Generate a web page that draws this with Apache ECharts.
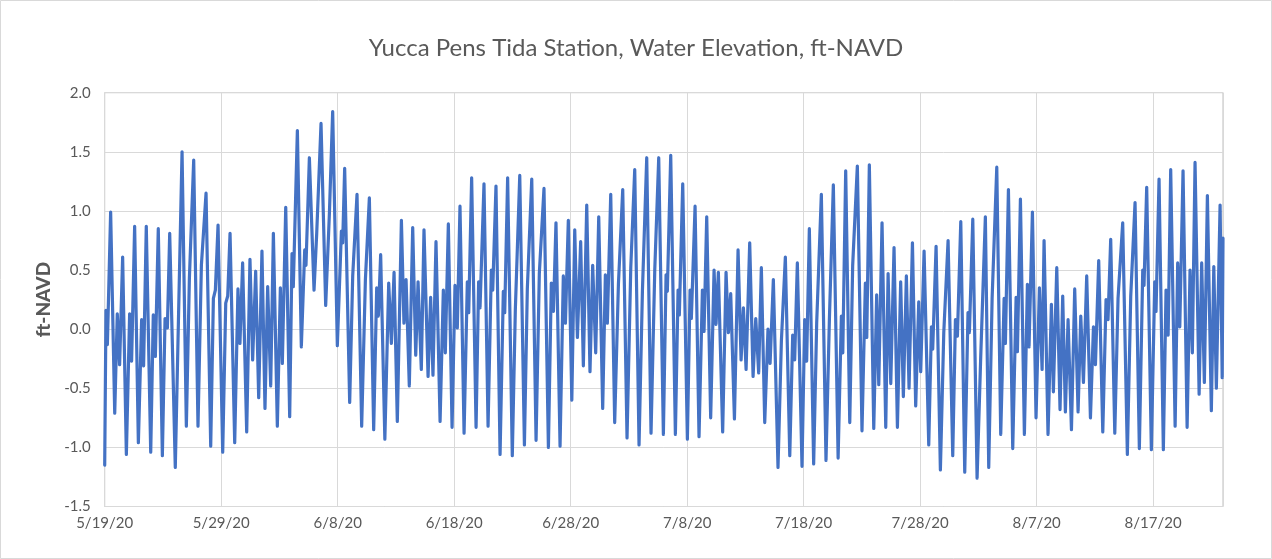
<!DOCTYPE html>
<html>
<head>
<meta charset="utf-8">
<script src="https://cdn.jsdelivr.net/npm/echarts@6/dist/echarts.min.js"></script>
<style>
html,body{margin:0;padding:0;background:#fff;}
#chart{width:1272px;height:559px;}
</style>
</head>
<body>
<div id="chart"></div>
<script>
// Title / labels
const chartTitle = "Yucca Pens Tida Station, Water Elevation, ft-NAVD";
const yAxisTitle = "ft-NAVD";
const startDate = [2020, 5, 19];   // 5/19/20
const axisDays = 96;               // axis span in days
const tickDays = 10;               // date tick spacing
const yTicks = [-1.5, -1.0, -0.5, 0.0, 0.5, 1.0, 1.5, 2.0];

// Time of each reading, in days since 5/19/20
const days = [
0.00,0.11,0.23,0.51,0.86,1.08,1.28,1.54,1.86,2.14,2.31,2.57,2.89,3.17,3.34,3.57,3.95,4.17,4.35,4.60,4.95,5.18,5.38,5.58,6.06,6.64,7.01,7.27,7.64,
8.01,8.30,8.70,9.10,9.33,9.50,9.73,10.13,10.39,10.56,10.76,11.16,11.44,11.61,11.84,12.19,12.47,12.70,12.96,13.22,13.50,13.76,13.99,14.25,14.48,14.82,15.08,15.25,15.54,15.88,
16.08,16.19,16.54,16.88,17.17,17.28,17.57,17.97,18.20,18.57,18.97,19.29,19.57,19.97,20.32,20.43,20.60,21.03,21.29,21.66,22.06,22.38,22.72,23.09,23.35,23.49,23.69,
24.05,24.38,24.61,24.84,25.12,25.47,25.69,25.87,26.15,26.44,26.70,26.90,27.18,27.41,27.76,27.98,28.18,28.44,28.79,29.07,29.24,29.50,29.82,30.07,30.27,30.50,30.85,31.13,31.25,31.50,31.88,
32.10,32.22,32.56,32.91,33.19,33.31,33.59,33.94,34.22,34.34,34.59,34.99,35.25,35.63,36.03,36.28,36.66,37.03,37.31,37.71,38.09,38.34,38.52,38.74,39.09,39.37,39.55,39.80,40.10,
40.35,40.58,40.86,41.09,41.38,41.66,41.89,42.15,42.41,42.75,42.98,43.15,43.44,43.78,44.10,44.47,44.84,45.16,45.50,45.87,46.16,46.53,46.90,47.22,47.56,47.96,48.19,
48.30,48.59,48.99,49.22,49.33,49.62,50.02,50.25,50.36,50.68,51.02,51.31,51.45,51.68,52.02,52.31,52.48,52.68,53.05,53.34,53.54,53.74,54.06,54.37,54.63,54.83,55.06,55.37,55.66,55.89,56.14,
56.37,56.66,56.94,57.12,57.40,57.80,58.09,58.43,58.81,59.06,59.23,59.46,59.86,60.09,60.26,60.49,60.86,61.12,61.52,61.92,62.21,62.55,62.96,63.24,63.36,63.61,63.96,64.21,
64.61,65.01,65.30,65.42,65.64,66.02,66.27,66.45,66.73,67.05,67.25,67.48,67.76,68.05,68.33,68.56,68.82,69.05,69.34,69.62,69.88,70.05,70.34,70.74,70.97,71.08,71.37,71.74,72.03,72.40,
72.80,73.03,73.20,73.49,73.83,74.11,74.23,74.52,74.89,75.20,75.60,75.89,76.18,76.58,76.92,77.21,77.32,77.58,77.95,78.24,78.35,78.61,78.95,79.21,79.35,79.64,79.95,80.24,80.47,
80.64,80.98,81.27,81.44,81.73,82.01,82.24,82.47,82.70,82.99,83.27,83.56,83.79,84.02,84.30,84.62,84.88,85.05,85.33,85.68,85.96,86.13,86.36,86.71,86.99,87.39,87.79,88.08,88.45,
88.82,89.11,89.22,89.45,89.85,90.14,90.25,90.51,90.88,91.11,91.29,91.51,91.89,92.11,92.29,92.57,92.92,93.17,93.37,93.60,93.95,94.17,94.40,94.66,95.00,95.21,95.43,95.75,95.93,96.00
];

// Water elevation, ft-NAVD
const elevation = [
-1.15,0.16,-0.13,0.99,-0.71,0.13,-0.30,0.61,-1.06,0.13,-0.27,0.87,-0.96,0.08,-0.31,0.87,-1.04,0.12,-0.23,0.85,-1.07,0.09,0.01,0.81,-1.17,1.50,-0.82,0.43,1.43,
-0.82,0.54,1.15,-0.99,0.26,0.33,0.88,-1.04,0.22,0.28,0.81,-0.96,0.34,-0.12,0.56,-0.87,0.59,-0.26,0.49,-0.58,0.66,-0.67,0.36,-0.48,0.81,-0.82,0.35,-0.29,1.03,-0.74,
0.64,0.36,1.68,-0.15,0.67,0.54,1.45,0.33,0.81,1.74,0.20,0.98,1.84,-0.14,0.83,0.73,1.36,-0.62,0.45,1.14,-0.82,0.42,1.11,-0.85,0.35,0.11,0.63,
-0.93,0.39,-0.12,0.48,-0.78,0.92,0.05,0.42,-0.48,0.86,-0.22,0.40,-0.34,0.84,-0.40,0.27,-0.39,0.74,-0.78,0.33,-0.20,0.89,-0.83,0.37,0.01,1.04,-0.88,0.40,0.14,1.28,-0.83,
0.40,0.18,1.23,-0.82,0.50,0.33,1.21,-1.06,0.32,0.14,1.28,-1.07,0.16,1.30,-0.98,0.34,1.27,-0.94,0.47,1.19,-1.00,0.39,0.15,0.90,-0.99,0.45,0.05,0.92,-0.60,
0.84,-0.07,0.74,-0.31,1.05,-0.36,0.54,-0.20,0.95,-0.67,0.46,0.05,1.14,-0.79,0.38,1.18,-0.92,0.52,1.35,-0.98,0.32,1.45,-0.88,0.50,1.45,-0.89,0.46,
0.32,1.47,-0.89,0.33,0.12,1.23,-0.93,0.33,0.09,1.04,-0.91,0.33,-0.02,0.95,-0.75,0.50,0.04,0.48,-0.87,0.48,-0.03,0.30,-0.76,0.67,-0.26,0.18,-0.34,0.73,-0.40,0.09,-0.37,
0.52,-0.79,0.00,-0.29,0.42,-1.17,-0.10,0.61,-1.07,-0.05,-0.26,0.56,-1.16,0.08,-0.27,0.85,-1.14,0.05,1.14,-1.11,0.08,1.22,-1.09,0.11,-0.20,1.34,-0.79,0.54,
1.38,-0.86,0.39,-0.07,1.39,-0.84,0.29,-0.47,0.90,-0.83,0.47,-0.46,0.69,-0.83,0.40,-0.57,0.45,-0.50,0.73,-0.65,0.23,-0.36,0.66,-0.98,0.02,-0.17,0.70,-1.19,-0.03,0.75,
-1.07,0.08,-0.06,0.91,-1.21,0.14,-0.03,0.93,-1.26,-0.24,0.95,-1.17,0.26,1.37,-0.89,0.26,-0.12,1.18,-1.01,0.27,-0.19,1.10,-0.89,0.38,-0.15,0.99,-0.75,0.35,-0.34,
0.75,-0.89,0.21,-0.53,0.52,-0.68,0.28,-0.70,0.08,-0.85,0.34,-0.70,0.11,-0.45,0.45,-0.75,0.02,-0.30,0.58,-0.87,0.25,0.08,0.76,-0.88,0.26,0.90,-1.06,0.28,1.07,
-1.01,0.50,0.37,1.20,-1.02,0.40,0.15,1.27,-1.02,0.33,-0.05,1.35,-0.82,0.56,0.02,1.34,-0.83,0.50,-0.20,1.41,-0.55,0.56,-0.45,1.13,-0.69,0.53,-0.50,1.05,-0.41,0.77
];

const DAY_MS = 86400000;
const baseMs = Date.UTC(startDate[0], startDate[1] - 1, startDate[2]);
function dayLabel(v) {
  if (Math.abs(v % tickDays) > 1e-6) return '';
  const d = new Date(baseMs + v * DAY_MS);
  return (d.getUTCMonth() + 1) + '/' + d.getUTCDate() + '/' + String(d.getUTCFullYear()).slice(2);
}

const seriesData = days.map((d, i) => [d, elevation[i]]);
const FONT = 'Lato, "Open Sans", sans-serif';
const chart = echarts.init(document.getElementById('chart'), null, {renderer: 'canvas'});
chart.setOption({
  animation: false,
  backgroundColor: '#ffffff',
  graphic: [{
    type: 'rect',
    shape: {x: 0.5, y: 0.5, width: 1271, height: 558},
    style: {fill: 'none', stroke: '#d9d9d9', lineWidth: 1},
    silent: true
  }],
  title: {
    text: chartTitle,
    left: 'center',
    top: 31,
    textStyle: {fontFamily: FONT, fontSize: 24, fontWeight: 'normal', color: '#595959'}
  },
  grid: {
    left: 104.7, right: 49, top: 92.7, bottom: 52.5,
    show: true, borderColor: '#bfbfbf', borderWidth: 1, backgroundColor: 'transparent'
  },
  xAxis: {
    type: 'value',
    min: 0, max: axisDays, interval: tickDays,
    axisLine: {show: false},
    axisTick: {show: false},
    splitLine: {show: true, lineStyle: {color: '#d9d9d9', width: 1}},
    axisLabel: {formatter: dayLabel, fontFamily: FONT, fontSize: 15, color: '#595959', margin: 9}
  },
  yAxis: {
    type: 'value',
    min: yTicks[0], max: yTicks[yTicks.length - 1], interval: 0.5,
    name: yAxisTitle,
    nameLocation: 'middle',
    nameGap: 50,
    nameTextStyle: {fontFamily: FONT, fontSize: 19, fontWeight: 900, color: '#595959'},
    axisLine: {show: false},
    axisTick: {show: false},
    splitLine: {show: true, lineStyle: {color: '#d9d9d9', width: 1}},
    axisLabel: {formatter: v => v.toFixed(1), fontFamily: FONT, fontSize: 15, color: '#595959', margin: 14}
  },
  series: [{
    type: 'line',
    data: seriesData,
    showSymbol: false,
    smooth: false,
    clip: true,
    lineStyle: {color: '#4472C4', width: 3.2, join: 'round', cap: 'round'}
  }]
});
</script>
</body>
</html>
